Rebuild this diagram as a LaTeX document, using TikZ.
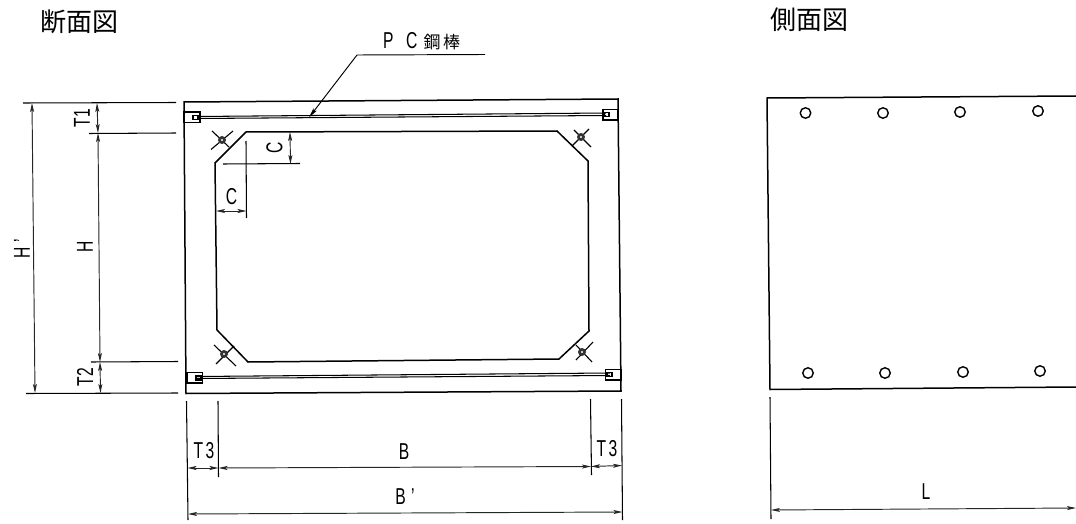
\documentclass[tikz,border=0pt]{standalone}
\usepackage{fontspec}
\usepackage{graphicx}
\setmainfont{Liberation Sans}
\newfontfamily\jpfont{Noto Sans CJK JP}
\usetikzlibrary{arrows.meta}
\tikzset{
  body/.style={line width=1.5pt,black},
  thin line/.style={line width=1.05pt,black},
  dimline/.style={line width=0.95pt,black!85,{Stealth[length=9pt,width=4pt,inset=2pt]}-{Stealth[length=9pt,width=4pt,inset=2pt]}},
  leaderline/.style={line width=0.95pt,black,-{Stealth[length=10pt,width=4pt,inset=2pt]}},
  title/.style={font=\jpfont\fontsize{26}{26}\selectfont,inner sep=0pt},
  lab/.style={font=\fontsize{23}{23}\selectfont,inner sep=0pt},
  jp/.style={font=\jpfont\fontsize{17}{17}\selectfont,inner sep=0pt},
  hole/.style={circle,draw,line width=1.4pt,minimum size=10.5pt,inner sep=0pt},
  anchorpt/.style={line width=1.1pt,black}
}
\newcommand{\nar}[1]{\scalebox{0.68}[1]{#1}}
\newcommand{\crossmark}[2]{%
  \fill[black!80] (#1,#2) circle (4pt);
  \fill[white] (#1,#2) circle (1.2pt);
}
\begin{document}
\begin{tikzpicture}[x=1pt,y=-1pt]
\useasboundingbox (0,0) rectangle (1076,524);
% titles
\node[title] (t1) at (79,22) {断面図};
\node[title] (t2) at (809.5,20) {側面図};
% section outer
\draw[body] (184,102) -- (618,99) -- (621,391) -- (186,393.5) -- cycle;
% section inner
\draw[body] (246,132) -- (557,131) -- (588,161) -- (589,331) -- (559,359) -- (248,362) -- (217,330) -- (215,163) -- cycle;
% PC bars
\draw[thin line] (197,116.5) -- (606,113);
\draw[thin line] (197,118.5) -- (606,115.5);
\draw[thin line] (197,376.5) -- (610,373);
\draw[thin line] (197,378.5) -- (610,375.5);
% end boxes
\draw[thin line] (184,112) rectangle (200,122.5);
\draw[thin line] (193,115.5) rectangle (198,119.5);
\draw[thin line] (603,109.5) rectangle (618,120);
\draw[thin line] (604,112.5) rectangle (609,116.5);
\draw[thin line] (187,372.5) rectangle (202.5,383);
\draw[thin line] (196,376) rectangle (201,380);
\draw[thin line] (605.5,369.5) rectangle (621,380);
\draw[thin line] (607,372.5) rectangle (612,376.5);
% anchors
\draw[anchorpt] (211,149.5) -- (233,131); \draw[anchorpt] (212,131) -- (229,147);
\crossmark{222}{140}
\draw[anchorpt] (574,130) -- (591,147); \draw[anchorpt] (572,146) -- (589,129);
\crossmark{581}{137}
\draw[anchorpt] (216,364) -- (234,346); \draw[anchorpt] (214,345) -- (236,366);
\crossmark{224}{354}
\draw[anchorpt] (576,360) -- (593,342); \draw[anchorpt] (576,345) -- (592,362);
\crossmark{582}{352}
% leader
\node[lab,anchor=west] (pcp) at (383,41) {\nar{P}};
\node[lab,anchor=west] (pcc) at (406,41) {\nar{C}};
\node[jp] (pcj1) at (432,42) {鋼};
\node[jp] (pcj2) at (451.5,42) {棒};
\coordinate (l1) at (485,54.5);
\coordinate (l2) at (357,55);
\coordinate (l3) at (309,117.5);
\draw[leaderline] (l1) -- (l2) -- (l3);
% extension lines left
\draw[thin line] (23,103) -- (176,102.5);
\draw[thin line] (89,133.5) -- (176,133);
\draw[thin line] (91,362) -- (178,361.5);
\draw[thin line] (26,393.5) -- (178,393);
% vertical dimensions left
\draw[dimline] (32,103) -- (35,393);
\draw[dimline] (97,103) -- (98,133);
\draw[dimline] (98,133) -- (100,362);
\draw[dimline] (100,362) -- (100.5,393);
\node[lab,rotate=90] (hp) at (22,249) {\nar{H\,\,'}};
\node[lab,rotate=90] (h) at (85,247) {\nar{H}};
\node[lab,rotate=90] (t1l) at (82,118) {\nar{T1}};
\node[lab,rotate=90] (t2l) at (85,377) {\nar{T2}};
% chamfer dims
\draw[thin line] (246,141) -- (246.5,218);
\draw[thin line] (223,164) -- (300,163.5);
\draw[dimline] (290,132) -- (290.5,164);
\draw[dimline] (216,211) -- (246.5,211);
\node[lab,rotate=90] (c1) at (274.5,148) {\nar{C}};
\node[lab] (c2) at (231.5,197) {\nar{C}};
% bottom dims
\draw[thin line] (186.5,401) -- (188,520);
\draw[thin line] (218,401) -- (218.5,477);
\draw[thin line] (590.5,399) -- (591.5,475);
\draw[thin line] (621.5,399) -- (622.5,520);
\draw[dimline] (187.5,468) -- (218.5,468);
\draw[dimline] (218.5,468) -- (591,466.5);
\draw[dimline] (591,466.5) -- (622,465.5);
\draw[dimline] (188,514) -- (622.5,512);
\node[lab] (t3a) at (204,450.5) {\nar{T\,3}};
\node[lab] (t3b) at (607,448.5) {\nar{T\,3}};
\node[lab] (b) at (404,452) {\nar{B}};
\node[lab] (bp) at (405,497) {\nar{B\,\,'}};
% side view
\draw[body] (1076,96) -- (767,98) -- (770,389.5) -- (1076,387);
\foreach \n/\x/\y in {a/805.5/113,b/883/113,c/960/112,d/1038/111,e/808/373,f/885/373,g/963/372,h/1040/371}
  \node[hole] (h\n) at (\x,\y) {};
\draw[thin line] (770,397) -- (771,519);
\coordinate (lr) at (1076,508);
\draw[dimline] (771,510) -- (lr);
\node[lab] (ll) at (926,492) {\nar{L}};
\end{tikzpicture}
\end{document}
